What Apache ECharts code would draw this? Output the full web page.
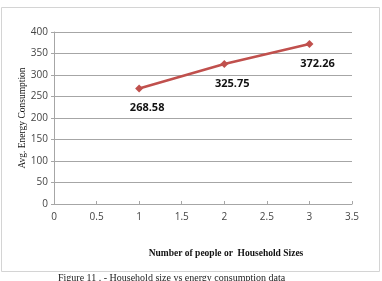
<!DOCTYPE html>
<html>
<head>
<meta charset="utf-8">
<script src="https://cdn.jsdelivr.net/npm/echarts@6/dist/echarts.min.js"></script>
<style>
  html, body { margin: 0; padding: 0; background: #fff; }
  #chart { width: 382px; height: 281px; }
</style>
</head>
<body>
<div id="chart"></div>
<script>
// 数据
const householdSizes = [1, 2, 3];
const avgEnergy = [268.58, 325.75, 372.26];
const xTicks = [0, 0.5, 1, 1.5, 2, 2.5, 3, 3.5];
const yTicks = [0, 50, 100, 150, 200, 250, 300, 350, 400];

const mychart = echarts.init(document.getElementById('chart'));

const option = {
    animation: false,
    backgroundColor: '#fff',
    grid: {
        left: 54,
        right: 30,
        top: 32,
        bottom: 77
    },
    graphic: [
        // 外框
        {
            type: 'rect',
            shape: { x: 1.5, y: 7.5, width: 378, height: 264 },
            style: { fill: 'none', stroke: '#d4d4d4', lineWidth: 1 }
        },
        // 图注
        {
            type: 'text',
            left: 58,
            top: 273,
            style: {
                text: 'Figure 11 . - Household size vs energy consumption data',
                font: '10px "Liberation Serif"',
                fill: '#222'
            }
        }
    ],
    xAxis: {
        type: 'value',
        min: 0,
        max: 3.5,
        interval: 0.5,
        name: 'Number of people or  Household Sizes',
        nameLocation: 'middle',
        nameGap: 45,
        nameMoveOverlap: false,
        nameTextStyle: {
            fontFamily: 'Liberation Serif',
            fontWeight: 'bold',
            fontSize: 9.5,
            color: '#111',
            padding: [0, 0, 0, 46]
        },
        axisLine: { show: true, lineStyle: { color: '#a6a6a6' } },
        axisTick: { show: true, length: 3, inside: true, lineStyle: { color: '#a6a6a6' } },
        splitLine: { show: false },
        axisLabel: {
            fontFamily: 'Open Sans',
            fontSize: 10,
            color: '#444',
            margin: 8,
            formatter: v => xTicks.includes(v) ? String(v) : ''
        }
    },
    yAxis: {
        type: 'value',
        min: 0,
        max: 400,
        interval: 50,
        name: 'Avg. Energy Consumption',
        nameLocation: 'middle',
        nameGap: 27,
        nameMoveOverlap: false,
        nameTextStyle: {
            fontFamily: 'Liberation Serif',
            fontSize: 9.5,
            color: '#111'
        },
        axisLine: { show: true, lineStyle: { color: '#a6a6a6' } },
        axisTick: { show: true, length: 3, lineStyle: { color: '#a6a6a6' } },
        splitLine: { show: true, lineStyle: { color: '#a6a6a6', width: 1 } },
        axisLabel: {
            fontFamily: 'Open Sans',
            fontSize: 10,
            color: '#444',
            margin: 6,
            formatter: v => yTicks.includes(v) ? String(v) : ''
        }
    },
    series: [{
        type: 'line',
        data: householdSizes.map((x, i) => [x, avgEnergy[i]]),
        symbol: 'diamond',
        symbolSize: 8,
        lineStyle: { color: '#c0504d', width: 2.5 },
        itemStyle: { color: '#c0504d' },
        label: {
            show: true,
            position: 'bottom',
            distance: 10,
            offset: [8, 0],
            fontFamily: 'Open Sans',
            fontWeight: 'bold',
            fontSize: 11,
            color: '#111',
            formatter: p => p.value[1].toFixed(2)
        }
    }]
};

mychart.setOption(option);
</script>
</body>
</html>
